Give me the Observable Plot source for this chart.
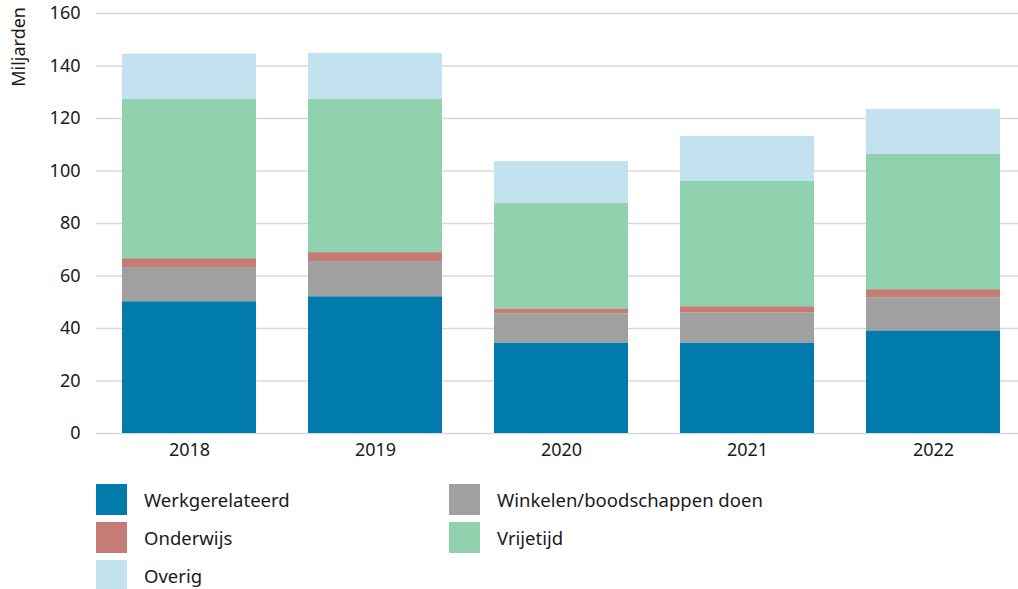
<!DOCTYPE html>
<html>
<head>
<meta charset="utf-8">
<script src="https://cdn.jsdelivr.net/npm/d3@7"></script>
<script src="https://cdn.jsdelivr.net/npm/@observablehq/plot@0.6"></script>
<style>
  html, body { margin: 0; padding: 0; background: #fff; }
  #wrap { position: relative; width: 1018px; height: 589px; font-family: "Noto Sans", sans-serif; color: #1a1a1a; }
  .leg { position: absolute; display: flex; align-items: center; font-size: 18.5px; height: 31px; }
  .sw { width: 31px; height: 31px; margin-right: 17px; flex: none; }
</style>
</head>
<body>
<div id="wrap"></div>
<script>
const years = ["2018", "2019", "2020", "2021", "2022"];
const series = ["Werkgerelateerd", "Winkelen/boodschappen doen", "Onderwijs", "Vrijetijd", "Overig"];
const colors = ["#007bab", "#a0a0a0", "#c47c75", "#90d1ae", "#c3e2ef"];
const werkgerelateerd = [50.2, 52.1, 34.5, 34.5, 39.1];
const winkelen = [13.0, 13.4, 11.1, 11.5, 12.6];
const onderwijs = [3.4, 3.4, 1.9, 2.3, 3.1];
const vrijetijd = [60.7, 58.4, 40.1, 47.7, 51.5];
const overig = [17.2, 17.5, 16.0, 17.2, 17.2];
const yTicks = [0, 20, 40, 60, 80, 100, 120, 140, 160];
const yLabel = "Miljarden";

const valuesBySeries = [werkgerelateerd, winkelen, onderwijs, vrijetijd, overig];
const data = [];
series.forEach((s, i) => years.forEach((y, j) => data.push({year: y, series: s, value: valuesBySeries[i][j]})));

const chart = Plot.plot({
  width: 1018,
  height: 470,
  marginTop: 13,
  marginBottom: 37,
  marginLeft: 96,
  marginRight: 0,
  style: {fontFamily: "Noto Sans, sans-serif", fontSize: "18px", color: "#1a1a1a", background: "#fff"},
  x: {type: "band", domain: years, range: [96, 1026], paddingInner: 0.28, paddingOuter: 0.14, label: null, tickSize: 0, tickPadding: 10},
  y: {domain: [0, 160], ticks: yTicks, label: null, tickSize: 0, tickPadding: 16},
  color: {domain: series, range: colors},
  marks: [
    Plot.ruleY(yTicks, {stroke: "#d8d8d8", strokeWidth: 1.5}),
    Plot.barY(data, {x: "year", y: "value", fill: "series", order: series}),
    Plot.axisX({tickSize: 0, tickPadding: 10, label: null}),
    Plot.axisY({ticks: yTicks, tickSize: 0, tickPadding: 16, label: null})
  ]
});

const wrap = document.getElementById("wrap");
wrap.appendChild(chart);

d3.select(chart).append("text")
  .attr("transform", "translate(25,7) rotate(-90)")
  .attr("text-anchor", "end")
  .attr("fill", "#1a1a1a")
  .style("font-size", "18px")
  .text(yLabel);

const legendPos = [
  {left: 96, top: 484}, {left: 449, top: 484},
  {left: 96, top: 522}, {left: 449, top: 522},
  {left: 96, top: 560}
];
const legendOrder = ["Werkgerelateerd", "Winkelen/boodschappen doen", "Onderwijs", "Vrijetijd", "Overig"];
legendOrder.forEach((s, i) => {
  const item = document.createElement("div");
  item.className = "leg";
  item.style.left = legendPos[i].left + "px";
  item.style.top = legendPos[i].top + "px";
  const sw = document.createElement("div");
  sw.className = "sw";
  sw.style.background = colors[series.indexOf(s)];
  const t = document.createElement("span");
  t.textContent = s;
  item.appendChild(sw);
  item.appendChild(t);
  wrap.appendChild(item);
});
</script>
</body>
</html>
